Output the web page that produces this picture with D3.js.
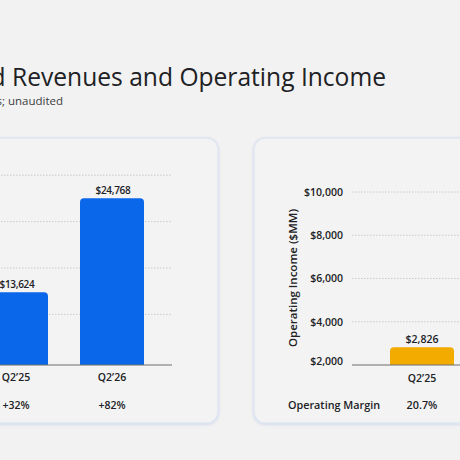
<!DOCTYPE html>
<html>
<head>
<meta charset="utf-8">
<script src="https://cdn.jsdelivr.net/npm/d3@7"></script>
<style>
  html, body { margin: 0; padding: 0; background: #f2f2f2; }
  svg { display: block; font-family: "Open Sans", "Noto Sans", sans-serif; }
</style>
</head>
<body>
<svg id="slide"></svg>
<script>
// Data
let quarters = ["Q2’25", "Q2’26"];
let revenue = [13624, 24768];
let revenueGrowth = ["+32%", "+82%"];
let revenueTicks = [11000, 16500, 22000, 27500];

let opQuarters = ["Q2’25"];
let opIncome = [2826];
let opMargin = ["20.7%"];
let opTicks = [2000, 4000, 6000, 8000, 10000];

let width = 460;
let height = 460;

let svg = d3.select('#slide')
    .attr('width', width)
    .attr('height', height);

svg.append('rect')
    .attr('width', width)
    .attr('height', height)
    .attr('fill', '#f2f2f2');

// soft shadow for the cards
let defs = svg.append('defs');
let shadow = defs.append('filter').attr('id', 'cardShadow')
    .attr('x', '-10%').attr('y', '-10%').attr('width', '120%').attr('height', '120%');
shadow.append('feDropShadow')
    .attr('dx', 0).attr('dy', 1).attr('stdDeviation', 1.5)
    .attr('flood-color', '#b9c6e6').attr('flood-opacity', 0.6);

// Title and subtitle (left part falls off the crop)
svg.append('text')
    .attr('x', 386).attr('y', 86)
    .attr('text-anchor', 'end')
    .attr('font-size', 24.6)
    .attr('fill', '#202124')
    .text('Google Cloud Revenues and Operating Income');

svg.append('text')
    .attr('x', 63).attr('y', 105)
    .attr('text-anchor', 'end')
    .attr('font-size', 11.5)
    .attr('fill', '#3c4043')
    .text('In millions of dollars; unaudited');

// Cards
svg.append('rect')
    .attr('x', -40).attr('y', 138)
    .attr('width', 258).attr('height', 285)
    .attr('rx', 11)
    .attr('fill', '#f3f3f3')
    .attr('stroke', '#dfe6f2')
    .attr('stroke-width', 1.5)
    .attr('filter', 'url(#cardShadow)');

svg.append('rect')
    .attr('x', 254).attr('y', 138)
    .attr('width', 260).attr('height', 285)
    .attr('rx', 11)
    .attr('fill', '#f3f3f3')
    .attr('stroke', '#dfe6f2')
    .attr('stroke-width', 1.5)
    .attr('filter', 'url(#cardShadow)');

let baseY = 365;

// Rounded-top bar path
function topRounded(x, y, w, h, r) {
    r = Math.min(r, h, w / 2);
    return `M${x},${y + h}V${y + r}Q${x},${y} ${x + r},${y}H${x + w - r}Q${x + w},${y} ${x + w},${y + r}V${y + h}Z`;
}

// ---------- Left chart: revenue ----------
let revX = d3.scaleBand()
    .domain(quarters)
    .range([-16, 144])
    .paddingInner(1 / 3)
    .paddingOuter(0);

let revY = d3.scaleLinear()
    .domain([5000, 27500])
    .range([baseY, baseY - 22500 / 118.55]);

let revPlot = svg.append('g');

revPlot.selectAll('line.grid')
    .data(revenueTicks)
    .enter().append('line')
    .attr('class', 'grid')
    .attr('x1', -20).attr('x2', 171)
    .attr('y1', d => revY(d)).attr('y2', d => revY(d))
    .attr('stroke', '#cacaca')
    .attr('stroke-width', 1)
    .attr('stroke-dasharray', '1.5,1.5');

let revData = quarters.map((q, i) => ({ q: q, v: revenue[i], g: revenueGrowth[i] }));

revPlot.selectAll('path.bar')
    .data(revData)
    .enter().append('path')
    .attr('class', 'bar')
    .attr('d', d => topRounded(revX(d.q), revY(d.v), revX.bandwidth(), baseY - revY(d.v), 4))
    .attr('fill', '#0b67e9');

revPlot.append('line')
    .attr('x1', -20).attr('x2', 172)
    .attr('y1', baseY).attr('y2', baseY)
    .attr('stroke', '#6e6e6e')
    .attr('stroke-width', 1.2);

revPlot.selectAll('text.value')
    .data(revData)
    .enter().append('text')
    .attr('class', 'value')
    .attr('x', d => revX(d.q) + revX.bandwidth() / 2 + 1)
    .attr('y', d => revY(d.v) - 4)
    .attr('text-anchor', 'middle')
    .attr('font-size', 10)
    .attr('letter-spacing', -0.3)
    .attr('font-weight', 600)
    .attr('fill', '#202124')
    .text(d => '$' + d3.format(',')(d.v));

revPlot.selectAll('text.cat')
    .data(revData)
    .enter().append('text')
    .attr('class', 'cat')
    .attr('x', d => revX(d.q) + revX.bandwidth() / 2)
    .attr('y', 381)
    .attr('text-anchor', 'middle')
    .attr('font-size', 10.5)
    .attr('font-weight', 600)
    .attr('fill', '#202124')
    .text(d => d.q);

revPlot.selectAll('text.growth')
    .data(revData)
    .enter().append('text')
    .attr('class', 'growth')
    .attr('x', d => revX(d.q) + revX.bandwidth() / 2)
    .attr('y', 409)
    .attr('text-anchor', 'middle')
    .attr('font-size', 10.5)
    .attr('font-weight', 600)
    .attr('fill', '#202124')
    .text(d => d.g);

// ---------- Right chart: operating income ----------
let opX = d3.scaleBand()
    .domain(quarters)
    .range([390, 550])
    .paddingInner(1 / 3)
    .paddingOuter(0);

let opY = d3.scaleLinear()
    .domain([2000, 10000])
    .range([baseY, 192]);

let opPlot = svg.append('g');

opPlot.selectAll('line.grid')
    .data(opTicks.filter(t => t > 2000))
    .enter().append('line')
    .attr('class', 'grid')
    .attr('x1', 352).attr('x2', 470)
    .attr('y1', d => opY(d)).attr('y2', d => opY(d))
    .attr('stroke', '#cacaca')
    .attr('stroke-width', 1)
    .attr('stroke-dasharray', '1.5,1.5');

let yAxis = d3.axisLeft(opY)
    .tickValues(opTicks)
    .tickSize(0)
    .tickPadding(0)
    .tickFormat(d => '$' + d3.format(',')(d));

let yAxisG = opPlot.append('g')
    .attr('transform', 'translate(343,0)')
    .call(yAxis);
yAxisG.select('.domain').remove();
yAxisG.selectAll('text')
    .attr('font-family', '"Open Sans", "Noto Sans", sans-serif')
    .attr('font-size', 10.5)
    .attr('font-weight', 600)
    .attr('fill', '#202124')
    .attr('dy', '0.32em');
// the lowest label sits a little above the baseline
yAxisG.selectAll('.tick').filter(d => d === 2000)
    .attr('transform', `translate(0,${opY(2000) - 3})`);

opPlot.append('text')
    .attr('transform', `translate(297,278) rotate(-90)`)
    .attr('text-anchor', 'middle')
    .attr('font-size', 11.5)
    .attr('font-weight', 600)
    .attr('fill', '#202124')
    .text('Operating Income ($MM)');

let opData = opQuarters.map((q, i) => ({ q: q, v: opIncome[i], m: opMargin[i] }));

opPlot.selectAll('path.bar')
    .data(opData)
    .enter().append('path')
    .attr('class', 'bar')
    .attr('d', d => topRounded(opX(d.q), opY(d.v), opX.bandwidth(), baseY - opY(d.v), 4))
    .attr('fill', '#f4ab00');

opPlot.append('line')
    .attr('x1', 352).attr('x2', 470)
    .attr('y1', baseY).attr('y2', baseY)
    .attr('stroke', '#6e6e6e')
    .attr('stroke-width', 1.2);

opPlot.selectAll('text.value')
    .data(opData)
    .enter().append('text')
    .attr('class', 'value')
    .attr('x', d => opX(d.q) + opX.bandwidth() / 2)
    .attr('y', d => opY(d.v) - 4)
    .attr('text-anchor', 'middle')
    .attr('font-size', 10.5)
    .attr('font-weight', 600)
    .attr('fill', '#202124')
    .text(d => '$' + d3.format(',')(d.v));

opPlot.selectAll('text.cat')
    .data(opData)
    .enter().append('text')
    .attr('class', 'cat')
    .attr('x', d => opX(d.q) + opX.bandwidth() / 2)
    .attr('y', 382)
    .attr('text-anchor', 'middle')
    .attr('font-size', 10.5)
    .attr('font-weight', 600)
    .attr('fill', '#202124')
    .text(d => d.q);

opPlot.append('text')
    .attr('x', 288).attr('y', 409)
    .attr('font-size', 10.8)
    .attr('font-weight', 600)
    .attr('fill', '#202124')
    .text('Operating Margin');

opPlot.selectAll('text.margin')
    .data(opData)
    .enter().append('text')
    .attr('class', 'margin')
    .attr('x', d => opX(d.q) + opX.bandwidth() / 2)
    .attr('y', 409)
    .attr('text-anchor', 'middle')
    .attr('font-size', 10.8)
    .attr('font-weight', 600)
    .attr('fill', '#202124')
    .text(d => d.m);
</script>
</body>
</html>
